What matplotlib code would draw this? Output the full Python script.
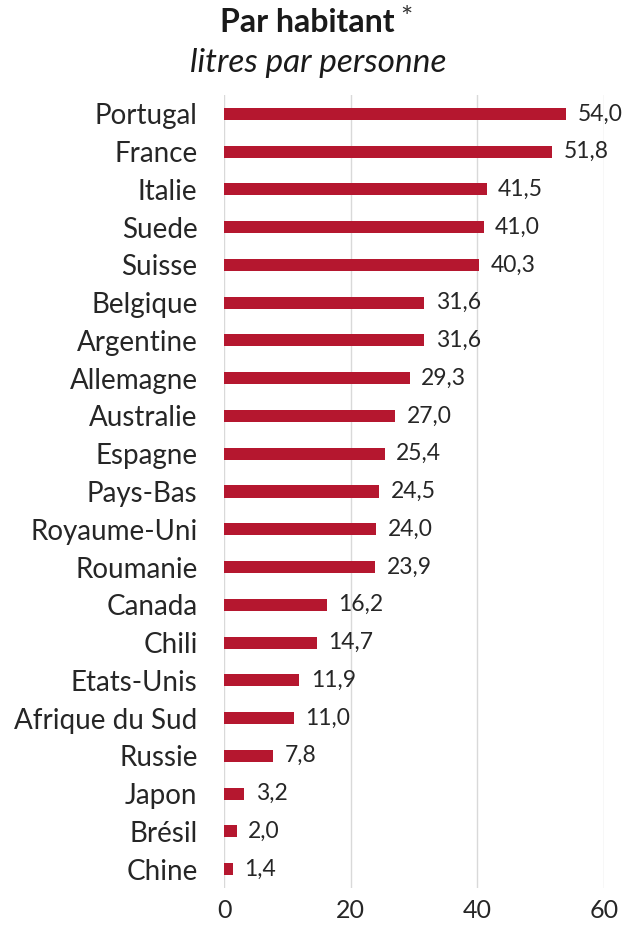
import matplotlib
matplotlib.use("Agg")
import matplotlib.pyplot as plt

countries = ["Portugal", "France", "Italie", "Suede", "Suisse", "Belgique",
             "Argentine", "Allemagne", "Australie", "Espagne", "Pays-Bas",
             "Royaume-Uni", "Roumanie", "Canada", "Chili", "Etats-Unis",
             "Afrique du Sud", "Russie", "Japon", "Brésil", "Chine"]
values = [54.0, 51.8, 41.5, 41.0, 40.3, 31.6, 31.6, 29.3, 27.0, 25.4, 24.5,
          24.0, 23.9, 16.2, 14.7, 11.9, 11.0, 7.8, 3.2, 2.0, 1.4]
xticks = [0, 20, 40, 60]

plt.rcParams["font.family"] = ["Lato", "DejaVu Sans"]

fig = plt.figure(figsize=(6.27, 9.26), dpi=100)
ax = fig.add_axes([224 / 627, 1 - 888 / 926, 380 / 627, 793 / 926])

y = list(range(len(countries)))
ax.barh(y, values, height=0.32, color="#B5172F", zorder=3)
for yi, v in zip(y, values):
    ax.text(v + 1.8, yi, f"{v:.1f}".replace(".", ","), va="center", ha="left",
            fontsize=16.5, color="#262626")

ax.set_xlim(0, 60)
ax.set_ylim(len(countries) - 0.5, -0.5)
ax.set_yticks(y)
ax.set_yticklabels(countries, fontsize=20, color="#262626")
ax.set_xticks(xticks)
ax.set_xticklabels([str(t) for t in xticks], fontsize=18, color="#262626")
ax.tick_params(axis="both", length=0)
ax.tick_params(axis="y", pad=19)
ax.tick_params(axis="x", pad=8)
ax.grid(axis="x", color="#D9D9D9", linewidth=1, zorder=0)
for s in ax.spines.values():
    s.set_visible(False)

title = fig.text(0.490, 0.976, "Par habitant", ha="center", va="center",
                 fontsize=23, fontweight="bold", color="#1a1a1a")
ax.annotate("*", xy=(1, 1), xycoords=title, xytext=(4, 1),
            textcoords="offset points", ha="left", va="top", fontsize=21,
            color="#333333")
fig.text(0.507, 0.932, "litres par personne", ha="center", va="center",
         fontsize=24, style="italic", color="#1a1a1a")

fig.savefig("out.png", dpi=100)
